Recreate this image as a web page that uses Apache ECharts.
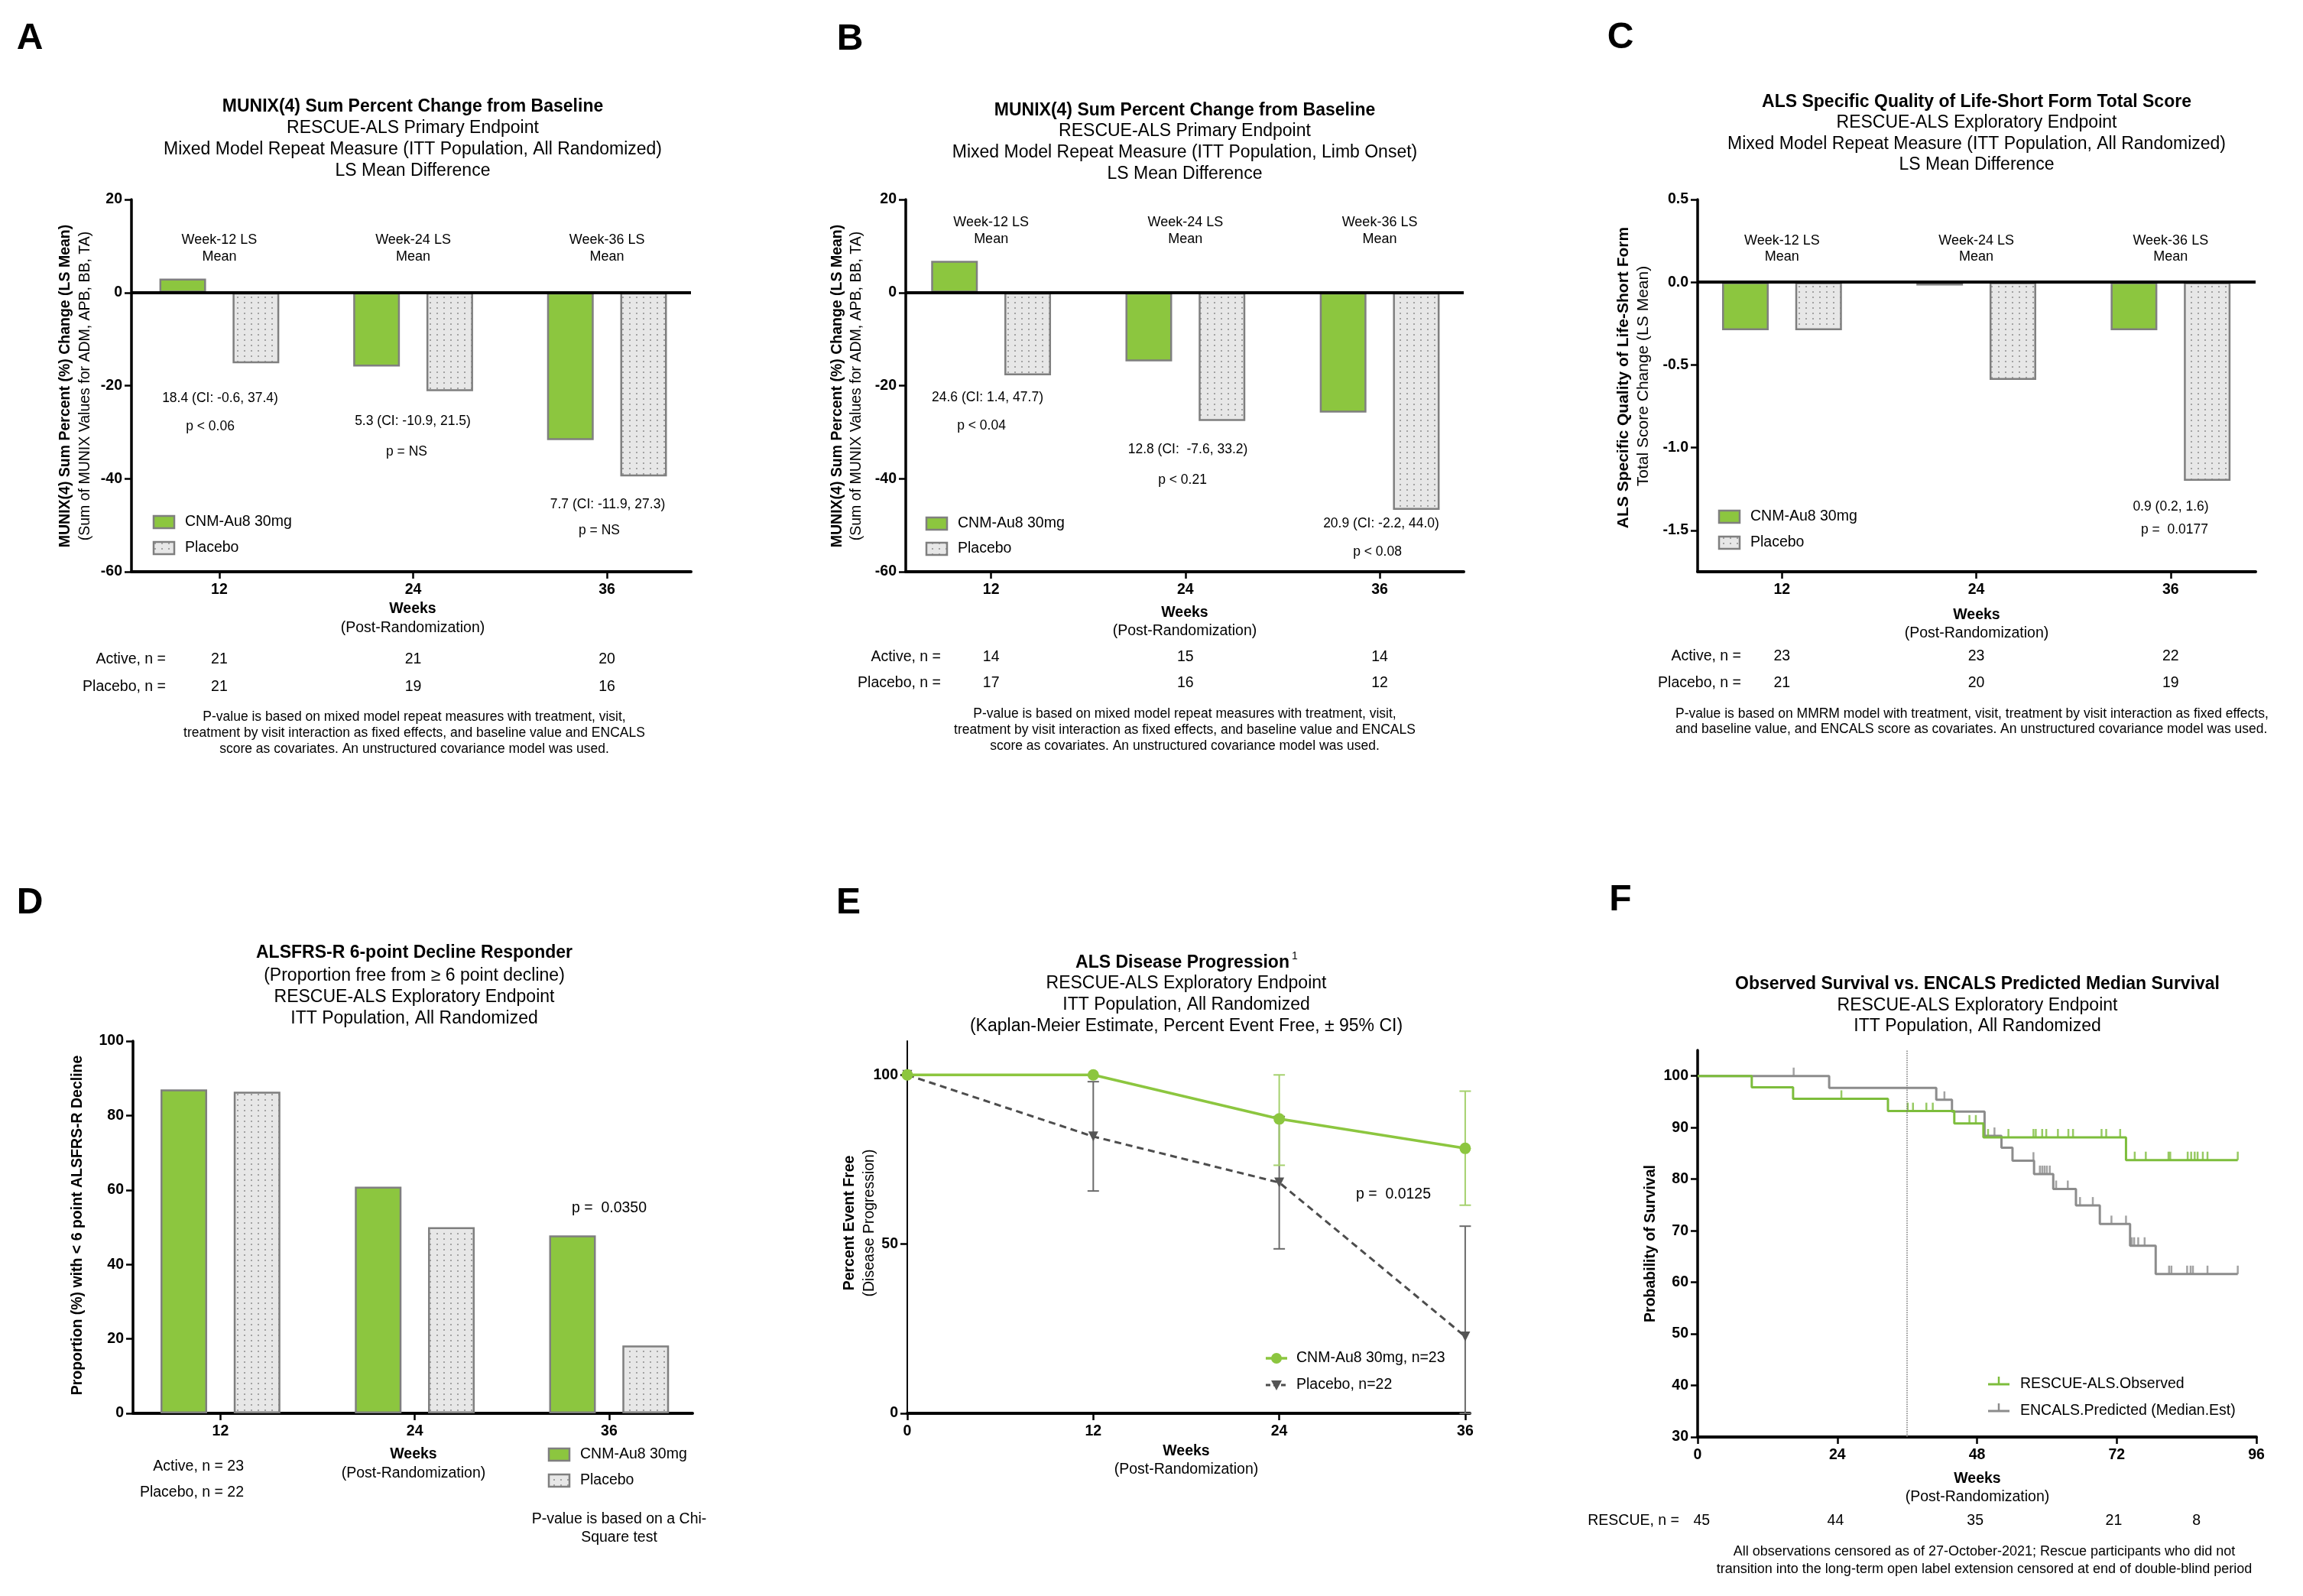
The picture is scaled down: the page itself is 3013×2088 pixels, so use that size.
<!DOCTYPE html>
<html><head><meta charset="utf-8"><title>RESCUE-ALS</title>
<script src="https://cdn.jsdelivr.net/npm/echarts@6.0.0/dist/echarts.min.js"></script>
<style>html,body{margin:0;padding:0;background:#fff;}#chart{width:3013px;height:2088px;}</style>
</head><body><div id="chart"></div>
<script>
// ---------------- data ----------------
const weeks = [12, 24, 36];
const weekLabels = ['Week-12 LS', 'Week-24 LS', 'Week-36 LS'];
const seriesNames = ['CNM-Au8 30mg', 'Placebo'];
// Panel A
const aActive = [3.0, -15.9, -31.7];
const aPlacebo = [-15.2, -21.2, -39.5];
const aActiveN = [21, 21, 20];
const aPlaceboN = [21, 19, 16];
const abYTicks = [-60, -40, -20, 0, 20];
// Panel B
const bActive = [6.8, -14.8, -25.8];
const bPlacebo = [-17.8, -27.6, -46.7];
const bActiveN = [14, 15, 14];
const bPlaceboN = [17, 16, 12];
// Panel C
const cActive = [-0.29, -0.02, -0.29];
const cPlacebo = [-0.29, -0.59, -1.20];
const cActiveN = [23, 23, 22];
const cPlaceboN = [21, 20, 19];
const cYTicks = [-1.5, -1.0, -0.5, 0, 0.5];
// Panel D
const dActive = [87.0, 60.9, 47.8];
const dPlacebo = [86.4, 50.0, 18.2];
const dYTicks = [0, 20, 40, 60, 80, 100];
// Panel E
const eWeeks = [0, 12, 24, 36];
const eActive = [100, 100, 87.0, 78.3];
const eActiveLo = [null, null, 73.3, 61.5];
const eActiveHi = [null, null, 100, 95.2];
const ePlacebo = [100, 81.8, 68.2, 22.7];
const ePlaceboLo = [null, 65.7, 48.6, 0];
const ePlaceboHi = [null, 98.0, 87.7, 55.3];
const eYTicks = [0, 50, 100];
// Panel F
const fObsT = [0, 9.3, 16.4, 32.7, 44.1, 49.1, 73.6, 92.8];
const fObsS = [100, 97.8, 95.6, 93.2, 90.8, 88.1, 83.7, 83.7];
const fObsCensor = [24.7, 36.1, 37.0, 39.3, 40.4, 46.7, 47.8, 49.9, 53.4, 57.7, 58.1, 59.2, 59.9, 61.9, 63.7, 64.5, 69.4, 70.2, 72.6, 75.1, 77.0, 80.9, 81.2, 84.2, 84.8, 85.4, 85.9, 86.8, 87.6, 92.8];
const fPredT = [0, 22.6, 41.0, 43.7, 49.3, 52.2, 54.1, 57.8, 61.1, 65.0, 69.1, 74.3, 78.7, 92.8];
const fPredS = [100, 97.7, 95.4, 93.1, 88.4, 86.1, 83.6, 81.0, 78.1, 74.9, 71.3, 67.1, 61.6, 61.6];
const fPredCensor = [16.5, 42.4, 51.0, 57.7, 58.8, 59.2, 59.6, 60.0, 60.5, 61.6, 63.6, 65.7, 67.9, 71.1, 73.6, 74.6, 75.0, 75.7, 76.8, 81.0, 81.4, 84.1, 84.7, 85.1, 87.6, 92.8];
const fYTicks = [30, 40, 50, 60, 70, 80, 90, 100];
const fRiskWeeks = [0.7, 23.7, 47.7, 71.5, 85.7];
const fRiskN = [45, 44, 35, 21, 8];

// ---------------- styles ----------------
const FONT = "'Liberation Sans', Arial, Helvetica, sans-serif";
const GREEN = '#8cc63f';
const BORDER = '#7f7f7f';
function makePattern() {
  const c = document.createElement('canvas');
  c.width = 9; c.height = 7;
  const g = c.getContext('2d');
  g.fillStyle = '#e7e7e7'; g.fillRect(0, 0, 9, 7);
  g.fillStyle = '#a2a2a2'; g.fillRect(4, 3, 2, 2);
  return c;
}
const PAT_IMG = makePattern();
const PAT = { image: PAT_IMG, repeat: 'repeat' };

function stepAt(T, S, t) { let v = S[0]; for (let i = 0; i < T.length; i++) { if (T[i] <= t) v = S[i]; } return v; }

const chart = echarts.init(document.getElementById('chart'), null, { renderer: 'canvas' });

const grids = [
  { left: 172, top: 261, width: 732, height: 487 },   // A
  { left: 1185, top: 261, width: 730, height: 487 },  // B
  { left: 2221, top: 261, width: 730, height: 487 },  // C
  { left: 174, top: 1362, width: 732, height: 487 },  // D
  { left: 1187, top: 1362, width: 736, height: 487 }, // E
  { left: 2221, top: 1374, width: 731, height: 506 }  // F
].map(g => Object.assign({ containLabel: false, outerBoundsMode: 'none' }, g));

function xAx(gi, min, max, ticks, lw) {
  return { type: 'value', gridIndex: gi, min, max, position: 'bottom',
    axisLine: { show: true, onZero: false, lineStyle: { color: '#000', width: lw || 4 } },
    axisTick: { show: true, length: 9, lineStyle: { color: '#000', width: 2.5 }, customValues: ticks },
    axisLabel: { show: true, customValues: ticks, margin: 14, color: '#000', fontSize: 19.5, fontWeight: 'bold', fontFamily: FONT },
    splitLine: { show: false } };
}
function yAx(gi, min, max, ticks, fmt, lw) {
  const lab = { show: true, customValues: ticks, margin: 12, color: '#000', fontSize: 19.5, fontWeight: 'bold', fontFamily: FONT };
  if (fmt) lab.formatter = fmt;
  return { type: 'value', gridIndex: gi, min, max,
    axisLine: { show: true, onZero: false, lineStyle: { color: '#000', width: lw || 3.5 } },
    axisTick: { show: true, length: 9, lineStyle: { color: '#000', width: 2.5 }, customValues: ticks },
    axisLabel: lab, splitLine: { show: false } };
}

function barPair(gi, act, plc, zero) {
  const s1 = { name: seriesNames[0], type: 'bar', xAxisIndex: gi, yAxisIndex: gi, silent: true,
    data: weeks.map((w, i) => [w, act[i]]), barWidth: 61, barGap: '57%',
    itemStyle: { color: GREEN, borderColor: BORDER, borderWidth: 2.5 } };
  const s2 = { name: seriesNames[1], type: 'bar', xAxisIndex: gi, yAxisIndex: gi, silent: true,
    data: weeks.map((w, i) => [w, plc[i]]), barWidth: 61, barGap: '57%',
    itemStyle: { color: PAT, borderColor: BORDER, borderWidth: 2.5 } };
  if (zero) s2.markLine = { silent: true, symbol: 'none', label: { show: false }, animation: false,
    lineStyle: { color: '#000', width: 4, type: 'solid' }, data: [{ yAxis: 0 }] };
  return [s1, s2];
}

function errSeries(gi, lo, hi, color) {
  const data = [];
  eWeeks.forEach((w, i) => { if (lo[i] != null) data.push([w, lo[i], hi[i]]); });
  return { type: 'custom', xAxisIndex: gi, yAxisIndex: gi, silent: true, z: 1, data,
    encode: { x: 0, y: [1, 2] },
    renderItem(params, api) {
      const x = api.value(0);
      const p1 = api.coord([x, api.value(1)]), p2 = api.coord([x, api.value(2)]);
      const hw = 7.5, st = { stroke: color, lineWidth: 2 };
      return { type: 'group', children: [
        { type: 'line', shape: { x1: p1[0], y1: p1[1], x2: p2[0], y2: p2[1] }, style: st },
        { type: 'line', shape: { x1: p1[0] - hw, y1: p1[1], x2: p1[0] + hw, y2: p1[1] }, style: st },
        { type: 'line', shape: { x1: p2[0] - hw, y1: p2[1], x2: p2[0] + hw, y2: p2[1] }, style: st }
      ] };
    } };
}

const series = [
  ...barPair(0, aActive, aPlacebo, true),
  ...barPair(1, bActive, bPlacebo, true),
  ...barPair(2, cActive, cPlacebo, true),
  ...barPair(3, dActive, dPlacebo, false),
  errSeries(4, ePlaceboLo, ePlaceboHi, '#6b6b6b'),
  errSeries(4, eActiveLo, eActiveHi, '#a5d16e'),
  { name: 'Placebo, n=22', type: 'line', xAxisIndex: 4, yAxisIndex: 4, silent: true, z: 3,
    data: eWeeks.map((w, i) => [w, ePlacebo[i]]),
    symbol: 'path://M0,0 L10,0 L5,10 Z', symbolSize: 13,
    lineStyle: { color: '#4d4d4d', width: 3, type: [9, 6] }, itemStyle: { color: '#555' } },
  { name: 'CNM-Au8 30mg, n=23', type: 'line', xAxisIndex: 4, yAxisIndex: 4, silent: true, z: 4,
    data: eWeeks.map((w, i) => [w, eActive[i]]),
    symbol: 'circle', symbolSize: 15,
    lineStyle: { color: GREEN, width: 3.5 }, itemStyle: { color: GREEN } },
  { name: 'ENCALS.Predicted (Median.Est)', type: 'line', xAxisIndex: 5, yAxisIndex: 5, silent: true, z: 2,
    data: fPredT.map((t, i) => [t, fPredS[i]]), step: 'end', showSymbol: false, symbol: 'none',
    lineStyle: { color: '#8c8c8c', width: 3 },
    markLine: { silent: true, symbol: 'none', label: { show: false }, animation: false,
      lineStyle: { color: '#777', width: 1.5, type: 'dotted' }, data: [{ xAxis: 36 }] } },
  { type: 'scatter', xAxisIndex: 5, yAxisIndex: 5, silent: true, z: 2,
    data: fPredCensor.map(t => [t, stepAt(fPredT, fPredS, t)]),
    symbol: 'rect', symbolSize: [2.5, 11], symbolOffset: [0, -5.5], itemStyle: { color: '#8c8c8c' } },
  { name: 'RESCUE-ALS.Observed', type: 'line', xAxisIndex: 5, yAxisIndex: 5, silent: true, z: 3,
    data: fObsT.map((t, i) => [t, fObsS[i]]), step: 'end', showSymbol: false, symbol: 'none',
    lineStyle: { color: '#7dbd3c', width: 3 } },
  { type: 'scatter', xAxisIndex: 5, yAxisIndex: 5, silent: true, z: 3,
    data: fObsCensor.map(t => [t, stepAt(fObsT, fObsS, t)]),
    symbol: 'rect', symbolSize: [2.5, 11], symbolOffset: [0, -5.5], itemStyle: { color: '#7dbd3c' } }
];

const option = {
  backgroundColor: '#fff',
  animation: false,
  textStyle: { fontFamily: FONT },
  grid: grids,
  xAxis: [
    xAx(0, 6.56, 41.2, weeks), xAx(1, 6.73, 41.19, weeks), xAx(2, 6.79, 41.25, weeks),
    xAx(3, 6.6, 41.15, weeks), xAx(4, 0, 36.3, eWeeks), xAx(5, 0, 96, [0, 24, 48, 72, 96])
  ],
  yAxis: [
    yAx(0, -60, 20, abYTicks), yAx(1, -60, 20, abYTicks),
    yAx(2, -1.75, 0.5, cYTicks, v => v.toFixed(1)),
    yAx(3, 0, 100, dYTicks), yAx(4, 0, 110, eYTicks, null, 2), yAx(5, 30, 105, fYTicks)
  ],
  series
};
chart.setOption(option);

// ---------------- text / annotations ----------------
const G = [];
function T(x, y, text, size, o) {
  o = o || {};
  G.push({ type: 'text', x, y, z: 100, rotation: o.rot || 0, silent: true,
    style: { text, fontSize: size, fontWeight: o.bold ? 'bold' : 'normal', fontFamily: FONT,
      fill: o.color || '#000', align: o.align || 'center', verticalAlign: 'middle' } });
}
function R(x, y, w, h, fill) {
  G.push({ type: 'rect', z: 100, silent: true, shape: { x, y, width: w, height: h },
    style: { fill, stroke: BORDER, lineWidth: 2.5 } });
}
const px = (gi, v) => chart.convertToPixel({ xAxisIndex: gi }, v);
const ROT = Math.PI / 2;

// panel letters
T(39, 51, 'A', 48, { bold: true }); T(1112, 52, 'B', 48, { bold: true }); T(2120, 50, 'C', 48, { bold: true });
T(39, 1182, 'D', 48, { bold: true }); T(1110, 1182, 'E', 48, { bold: true }); T(2120, 1178, 'F', 48, { bold: true });

// Panel A
T(540, 140, 'MUNIX(4) Sum Percent Change from Baseline', 23, { bold: true });
T(540, 168, 'RESCUE-ALS Primary Endpoint', 23);
T(540, 196, 'Mixed Model Repeat Measure (ITT Population, All Randomized)', 23);
T(540, 224, 'LS Mean Difference', 23);
// Panel B
T(1550, 145, 'MUNIX(4) Sum Percent Change from Baseline', 23, { bold: true });
T(1550, 172, 'RESCUE-ALS Primary Endpoint', 23);
T(1550, 200, 'Mixed Model Repeat Measure (ITT Population, Limb Onset)', 23);
T(1550, 228, 'LS Mean Difference', 23);
// Panel C
T(2586, 134, 'ALS Specific Quality of Life-Short Form Total Score', 23, { bold: true });
T(2586, 161, 'RESCUE-ALS Exploratory Endpoint', 23);
T(2586, 189, 'Mixed Model Repeat Measure (ITT Population, All Randomized)', 23);
T(2586, 216, 'LS Mean Difference', 23);

// week LS labels
const wkY = [[314, 336], [291, 313], [315, 336]];
[0, 1, 2].forEach(gi => {
  weeks.forEach((w, i) => {
    const x = px(gi, w);
    T(x, wkY[gi][0], weekLabels[i], 18);
    T(x, wkY[gi][1], 'Mean', 18);
  });
});

// annotations
T(288, 521, '18.4 (CI: -0.6, 37.4)', 17.5); T(275, 558, 'p < 0.06', 17.5);
T(540, 551, '5.3 (CI: -10.9, 21.5)', 17.5); T(532, 591, 'p = NS', 17.5);
T(795, 660, '7.7 (CI: -11.9, 27.3)', 17.5); T(784, 694, 'p = NS', 17.5);
T(1292, 520, '24.6 (CI: 1.4, 47.7)', 17.5); T(1284, 557, 'p < 0.04', 17.5);
T(1554, 588, '12.8 (CI:  -7.6, 33.2)', 17.5); T(1547, 628, 'p < 0.21', 17.5);
T(1807, 685, '20.9 (CI: -2.2, 44.0)', 17.5); T(1802, 722, 'p < 0.08', 17.5);
T(2840, 663, '0.9 (0.2, 1.6)', 17.5); T(2845, 693, 'p =  0.0177', 17.5);

// bar legends
function barLegend(x, y1, y2) {
  R(x, y1, 27, 16, GREEN); T(x + 41, y1 + 8, seriesNames[0], 19.5, { align: 'left' });
  R(x, y2, 27, 16, PAT); T(x + 41, y2 + 8, seriesNames[1], 19.5, { align: 'left' });
}
barLegend(201, 675, 709);
barLegend(1212, 677, 710);
barLegend(2249, 668, 702);
barLegend(718, 1895, 1929);

// axis titles (x)
T(540, 797, 'Weeks', 19.5, { bold: true }); T(540, 822, '(Post-Randomization)', 19.5);
T(1550, 802, 'Weeks', 19.5, { bold: true }); T(1550, 826, '(Post-Randomization)', 19.5);
T(2586, 805, 'Weeks', 19.5, { bold: true }); T(2586, 829, '(Post-Randomization)', 19.5);
T(541, 1903, 'Weeks', 19.5, { bold: true }); T(541, 1928, '(Post-Randomization)', 19.5);
T(1552, 1899, 'Weeks', 19.5, { bold: true }); T(1552, 1923, '(Post-Randomization)', 19.5);
T(2587, 1935, 'Weeks', 19.5, { bold: true }); T(2587, 1959, '(Post-Randomization)', 19.5);

// n tables
function nTable(gi, rx, y1, y2, act, plc) {
  T(rx, y1, 'Active, n =', 19.5, { align: 'right' });
  T(rx, y2, 'Placebo, n =', 19.5, { align: 'right' });
  weeks.forEach((w, i) => { const x = px(gi, w); T(x, y1, String(act[i]), 19.5); T(x, y2, String(plc[i]), 19.5); });
}
nTable(0, 217, 863, 899, aActiveN, aPlaceboN);
nTable(1, 1231, 860, 894, bActiveN, bPlaceboN);
nTable(2, 2278, 859, 894, cActiveN, cPlaceboN);

// footnotes
const fnAB = ['P-value is based on mixed model repeat measures with treatment, visit,',
  'treatment by visit interaction as fixed effects, and baseline value and ENCALS',
  'score as covariates. An unstructured covariance model was used.'];
fnAB.forEach((s, i) => { T(542, 938 + i * 21, s, 17.5); T(1550, 934 + i * 21, s, 17.5); });
T(2192, 934, 'P-value is based on MMRM model with treatment, visit, treatment by visit interaction as fixed effects,', 17.5, { align: 'left' });
T(2192, 954, 'and baseline value, and ENCALS score as covariates. An unstructured covariance model was used.', 17.5, { align: 'left' });

// y-axis titles
T(86, 505, 'MUNIX(4) Sum Percent (%) Change (LS Mean)', 19.5, { bold: true, rot: ROT });
T(112, 505, '(Sum of MUNIX Values for ADM, APB, BB, TA)', 19.5, { rot: ROT });
T(1096, 505, 'MUNIX(4) Sum Percent (%) Change (LS Mean)', 19.5, { bold: true, rot: ROT });
T(1121, 505, '(Sum of MUNIX Values for ADM, APB, BB, TA)', 19.5, { rot: ROT });
T(2124, 494, 'ALS Specific Quality of Life-Short Form', 21, { bold: true, rot: ROT });
T(2150, 492, 'Total Score Change (LS Mean)', 21, { rot: ROT });
T(102, 1603, 'Proportion (%) with < 6 point ALSFRS-R Decline', 19.5, { bold: true, rot: ROT });
T(1112, 1600, 'Percent Event Free', 19.5, { bold: true, rot: ROT });
T(1138, 1600, '(Disease Progression)', 19.5, { rot: ROT });
T(2160, 1627, 'Probability of Survival', 19.5, { bold: true, rot: ROT });

// Panel D
T(542, 1247, 'ALSFRS-R 6-point Decline Responder', 23, { bold: true });
T(542, 1277, '(Proportion free from \u2265 6 point decline)', 23);
T(542, 1305, 'RESCUE-ALS Exploratory Endpoint', 23);
T(542, 1333, 'ITT Population, All Randomized', 23);
T(797, 1581, 'p =  0.0350', 19.5);
T(319, 1919, 'Active, n = 23', 19.5, { align: 'right' });
T(319, 1953, 'Placebo, n = 22', 19.5, { align: 'right' });
T(810, 1988, 'P-value is based on a Chi-', 19.5);
T(810, 2012, 'Square test', 19.5);

// Panel E
T(1547, 1260, 'ALS Disease Progression', 23, { bold: true });
T(1690, 1251, '1', 14, { align: 'left' });
T(1552, 1287, 'RESCUE-ALS Exploratory Endpoint', 23);
T(1552, 1315, 'ITT Population, All Randomized', 23);
T(1552, 1343, '(Kaplan-Meier Estimate, Percent Event Free, \u00b1 95% CI)', 23);
T(1823, 1563, 'p =  0.0125', 19.5);
G.push({ type: 'line', z: 100, silent: true, shape: { x1: 1656, y1: 1777, x2: 1684, y2: 1777 }, style: { stroke: GREEN, lineWidth: 3.5 } });
G.push({ type: 'circle', z: 101, silent: true, shape: { cx: 1670, cy: 1777, r: 7 }, style: { fill: GREEN } });
T(1696, 1777, 'CNM-Au8 30mg, n=23', 19.5, { align: 'left' });
G.push({ type: 'line', z: 100, silent: true, shape: { x1: 1656, y1: 1812, x2: 1684, y2: 1812 }, style: { stroke: '#4d4d4d', lineWidth: 3, lineDash: [6, 4] } });
G.push({ type: 'polygon', z: 101, silent: true, shape: { points: [[1663, 1806], [1677, 1806], [1670, 1819]] }, style: { fill: '#555' } });
T(1696, 1812, 'Placebo, n=22', 19.5, { align: 'left' });

// Panel F
T(2587, 1288, 'Observed Survival vs. ENCALS Predicted Median Survival', 23, { bold: true });
T(2587, 1316, 'RESCUE-ALS Exploratory Endpoint', 23);
T(2587, 1343, 'ITT Population, All Randomized', 23);
function kmIcon(y, color) {
  G.push({ type: 'line', z: 100, silent: true, shape: { x1: 2601, y1: y, x2: 2629, y2: y }, style: { stroke: color, lineWidth: 3 } });
  G.push({ type: 'line', z: 100, silent: true, shape: { x1: 2615, y1: y, x2: 2615, y2: y - 10 }, style: { stroke: color, lineWidth: 2.5 } });
}
kmIcon(1811, '#7dbd3c'); T(2643, 1811, 'RESCUE-ALS.Observed', 19.5, { align: 'left' });
kmIcon(1846, '#8c8c8c'); T(2643, 1846, 'ENCALS.Predicted (Median.Est)', 19.5, { align: 'left' });
T(2197, 1990, 'RESCUE, n =', 19.5, { align: 'right' });
fRiskWeeks.forEach((w, i) => T(px(5, w), 1990, String(fRiskN[i]), 19.5));
T(2596, 2030, 'All observations censored as of 27-October-2021; Rescue participants who did not', 18);
T(2596, 2053, 'transition into the long-term open label extension censored at end of double-blind period', 18);

chart.setOption({ graphic: { elements: G } });
</script>
</body></html>
